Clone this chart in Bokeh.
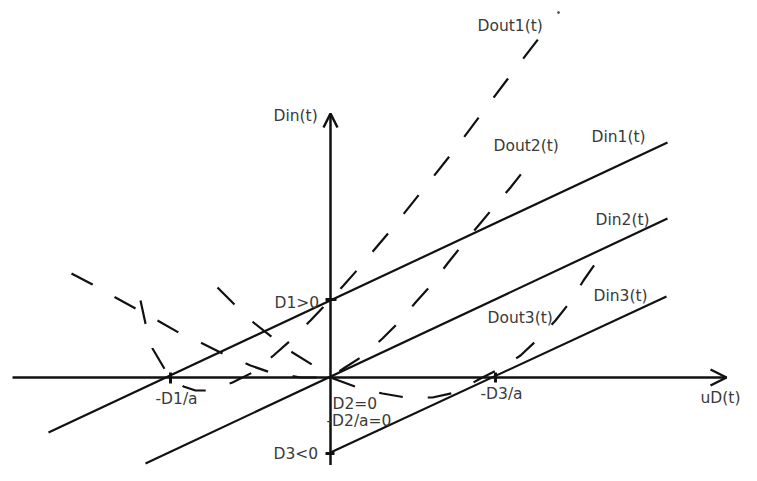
from bokeh.plotting import figure
from bokeh.models import Range1d
from bokeh.embed import file_html
from bokeh.resources import INLINE
from bokeh.core.properties import value

# Solid lines Din1..Din3 (data units; origin at axes crossing)
din1_x = [-282, 337]
din1_y = [-55, 235]
din2_x = [-185, 337]
din2_y = [-86, 159]
din3_x = [0, 336]
din3_y = [-75, 81]

# Dashed curves Dout1..Dout3
dout1_x = [-190, -185, -178, -165, -147, -135, -123, -98, -78, -57, -40, -20, 0, 13, 28, 60, 91, 122, 152, 182, 212]
dout1_y = [77, 54, 29, 7, -9, -13, -13, -5, 5, 22, 37, 57, 78, 92, 109, 147, 186, 225, 265, 305, 344]
dout2_x = [-259, -238, -215, -195, -173, -152, -128, -108, -80, -60, -30, 0, 13, 33, 52, 70, 85, 102, 117, 133, 148, 163, 180, 195]
dout2_y = [104, 93, 80, 69, 57, 45, 34, 24, 12, 5, 0, 0, 9, 22, 39, 57, 75, 94, 114, 134, 152, 170, 190, 209]
dout3_x = [-113, -95, -77, -58, -38, -17, 0, 27, 52, 75, 102, 125, 150, 170, 190, 207, 225, 240, 253, 267]
dout3_y = [90, 72, 55, 40, 25, 12, 0, -10, -16, -20, -20, -15, -1, 9, 22, 38, 57, 76, 97, 117]

# Axes
haxis_x = [-318, 396]
haxis_y = [0, 0]
harrow_x = [380, 396, 380]
harrow_y = [8, 0, -8]
vaxis_x = [0, 0]
vaxis_y = [-110, 264]
varrow_x = [-7, 0, 7]
varrow_y = [250, 264, 250]

# Tick marks: (x0, y0, x1, y1)
tick_x0 = [-5, -160, -5, 165]
tick_y0 = [78, -6, -76, -5]
tick_x1 = [6, -160, 4, 165]
tick_y1 = [78, 5, -76, 5]

# Labels
label_text = ["Dout1(t)", "Din(t)", "Dout2(t)", "Din1(t)", "Din2(t)", "Din3(t)", "Dout3(t)",
              "D1>0", "-D1/a", "D2=0", "-D2/a=0", "D3<0", "-D3/a", "uD(t)"]
label_x = [147, -57, 163, 261, 265, 263, 157, -56, -175, 2, -4, -57, 150, 370]
label_y = [352, 262, 232, 241, 158, 82, 60, 75, -21, -26, -43, -76, -16, -20]

p = figure(width=741, height=465, output_backend="svg", toolbar_location=None,
           x_range=Range1d(-330, 411), y_range=Range1d(-88, 377),
           min_border=0)
p.axis.visible = False
p.grid.visible = False
p.outline_line_color = None
p.background_fill_color = "white"

lc = "#111111"
lw = 2.2
for xs, ys in [(din1_x, din1_y), (din2_x, din2_y), (din3_x, din3_y)]:
    p.line(xs, ys, line_color=lc, line_width=lw)

for xs, ys in [(dout1_x, dout1_y), (dout2_x, dout2_y), (dout3_x, dout3_y)]:
    p.line(xs, ys, line_color=lc, line_width=lw, line_dash="24 25")

p.line(haxis_x, haxis_y, line_color=lc, line_width=2.5)
p.line(harrow_x, harrow_y, line_color=lc, line_width=2.5)
p.line(vaxis_x, vaxis_y, line_color=lc, line_width=2.5)
p.line(varrow_x, varrow_y, line_color=lc, line_width=2.5)

p.segment(tick_x0, tick_y0, tick_x1, tick_y1, line_color=lc, line_width=3)

p.scatter([228], [365], size=2, color="#555555")

p.text(label_x, label_y, text=label_text, text_font=value("DejaVu Sans"),
       text_font_size="15.5px", text_color="#3a3a3a", text_baseline="middle",
       text_align="left")

open("out.html", "w").write(file_html(p, INLINE))
